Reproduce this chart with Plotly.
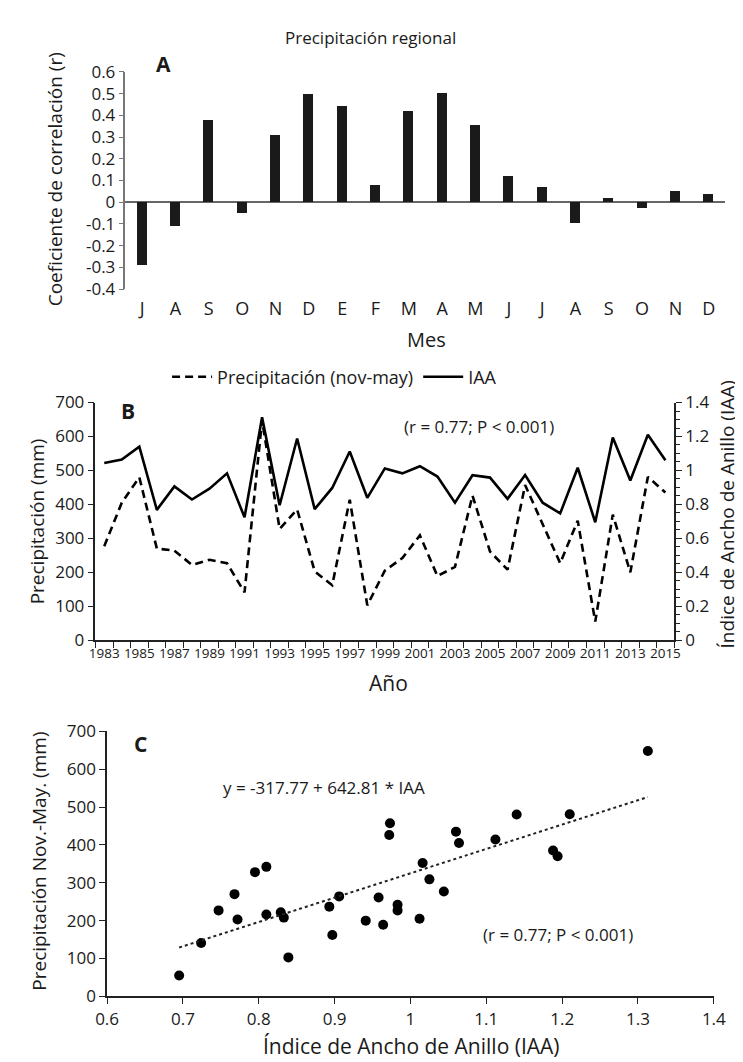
import plotly.graph_objects as go

W, H = 743, 1062

# panel A: correlation by month
meses = ['J', 'A', 'S', 'O', 'N', 'D', 'E', 'F', 'M', 'A', 'M', 'J', 'J', 'A', 'S', 'O', 'N', 'D']
corr_r = [-0.29, -0.11, 0.38, -0.05, 0.31, 0.50, 0.445, 0.08, 0.42, 0.505, 0.355,
          0.12, 0.07, -0.095, 0.02, -0.025, 0.05, 0.04]
corr_ticks = [-0.4, -0.3, -0.2, -0.1, 0, 0.1, 0.2, 0.3, 0.4, 0.5, 0.6]
corr_ticktext = ['-0.4', '-0.3', '-0.2', '-0.1', '0', '0.1', '0.2', '0.3', '0.4', '0.5', '0.6']

# panel B: series by year
anios = list(range(1983, 2016))
precip = [277, 405, 480, 270, 264, 222, 237, 227, 141, 648, 328, 385, 203, 162, 414, 103,
          205, 242, 309, 189, 216, 426, 261, 208, 457, 342, 227, 352, 55, 370, 200, 481, 435]
iaa = [1.044, 1.064, 1.14, 0.768, 0.906, 0.829, 0.893, 0.983, 0.724, 1.313, 0.795, 1.188,
       0.772, 0.897, 1.112, 0.839, 1.012, 0.983, 1.025, 0.964, 0.810, 0.972, 0.958, 0.833,
       0.973, 0.810, 0.747, 1.016, 0.695, 1.194, 0.941, 1.21, 1.06]
anio_ticks = list(range(1983, 2016, 2))

# panel C: regression
b0, b1 = -317.77, 642.81

FONT = 'Open Sans'


def px(x):
    return x / W


def py(y):
    return 1 - y / H


fig = go.Figure()

# --- A ---
fig.add_trace(go.Bar(x=list(range(len(meses))), y=corr_r, width=0.3,
                     marker=dict(color='#1a1a1a', line=dict(width=0)),
                     showlegend=False, xaxis='x', yaxis='y'))

# --- B ---
fig.add_trace(go.Scatter(x=anios, y=precip, mode='lines', name='Precipitación (nov-may)',
                         line=dict(color='black', width=2.6, dash='8px,5px'),
                         xaxis='x2', yaxis='y2'))
fig.add_trace(go.Scatter(x=anios, y=iaa, mode='lines', name='IAA',
                         line=dict(color='black', width=2.6),
                         xaxis='x2', yaxis='y3'))

# --- C ---
fig.add_trace(go.Scatter(x=iaa, y=precip, mode='markers', showlegend=False,
                         marker=dict(color='black', size=10),
                         xaxis='x3', yaxis='y4'))
xr = [min(iaa), max(iaa)]
fig.add_trace(go.Scatter(x=xr, y=[b0 + b1 * v for v in xr], mode='lines', showlegend=False,
                         line=dict(color='#222', width=2, dash='dot'),
                         xaxis='x3', yaxis='y4'))

axis_font = dict(family=FONT, size=17, color='#1a1a1a')

fig.update_layout(
    width=W, height=H,
    margin=dict(l=0, r=0, t=0, b=0),
    paper_bgcolor='white', plot_bgcolor='white',
    font=dict(family=FONT, color='#1a1a1a'),
    bargap=0,
    # A
    xaxis=dict(domain=[px(109), px(729)], range=[-0.5, 17.5], anchor='y',
               tickvals=list(range(len(meses))), ticktext=meses,
               showline=False, showgrid=False, zeroline=False,
               ticks='outside', ticklen=3, tickcolor='rgba(0,0,0,0)',
               tickfont=dict(family=FONT, size=18, color='#1a1a1a')),
    yaxis=dict(domain=[py(275), py(53)], range=[-0.4, 0.6], anchor='x',
               tickvals=corr_ticks, ticktext=corr_ticktext,
               showline=True, linecolor='#777', linewidth=1.5,
               ticks='outside', ticklen=5, tickcolor='#777',
               showgrid=False, zeroline=True, zerolinecolor='#666', zerolinewidth=1.5,
               tickfont=axis_font),
    # B
    xaxis2=dict(domain=[px(78), px(676)], range=[1982.5, 2015.5], anchor='y2',
                tickvals=anio_ticks, ticks='', showline=True, linecolor='#222', linewidth=1.5,
                showgrid=False, zeroline=False,
                minor=dict(tick0=1982.5, dtick=1, ticks='outside', ticklen=6, tickcolor='#222'),
                tickfont=dict(family=FONT, size=13.5, color='#1a1a1a')),
    yaxis2=dict(domain=[py(634), py(391)], range=[0, 700], anchor='x2', dtick=100,
                showline=True, linecolor='#222', linewidth=1.5,
                ticks='outside', ticklen=6, tickcolor='#222',
                showgrid=False, zeroline=False, tickfont=axis_font),
    yaxis3=dict(range=[0, 1.4], overlaying='y2', anchor='x2', side='right', dtick=0.2,
                showline=True, linecolor='#222', linewidth=1.5,
                ticks='outside', ticklen=6, tickcolor='#222',
                minor=dict(dtick=0.05, ticks='outside', ticklen=4, tickcolor='#222'),
                showgrid=False, zeroline=False, tickfont=axis_font),
    # C
    xaxis3=dict(domain=[px(90), px(717)], range=[0.6, 1.4], anchor='y4', dtick=0.1,
                showline=True, linecolor='#222', linewidth=1.5,
                ticks='outside', ticklen=6, tickcolor='#222',
                showgrid=False, zeroline=False, tickfont=axis_font),
    yaxis4=dict(domain=[py(998), py(727)], range=[0, 700], anchor='x3', dtick=100,
                showline=True, linecolor='#222', linewidth=1.5,
                ticks='outside', ticklen=6, tickcolor='#222',
                showgrid=False, zeroline=False, tickfont=axis_font),
    legend=dict(orientation='h', x=px(152), y=py(365), xanchor='left', yanchor='middle',
                font=dict(family=FONT, size=18, color='#1a1a1a'),
                bgcolor='rgba(0,0,0,0)', itemwidth=40),
)


def label(text, x, y, size=19, angle=0, bold=False, anchor='center'):
    if bold:
        text = '<b>' + text + '</b>'
    fig.add_annotation(text=text, x=px(x), y=py(y), xref='paper', yref='paper',
                       showarrow=False, textangle=angle, xanchor=anchor, yanchor='middle',
                       font=dict(family=FONT, size=size, color='#1a1a1a'))


label('Precipitación regional', 362, 18, size=17)
label('A', 148, 45, size=21, bold=True)
label('Coeficiente de correlación (r)', 37, 163, angle=-90)
label('Mes', 420, 327, size=20)

label('B', 112, 400, size=21, bold=True)
label('(r = 0.77; P < 0.001)', 474, 415, size=17)
label('Precipitación (mm)', 17, 512, angle=-90)
label('Índice de Ancho de Anillo (IAA)', 731, 505, angle=-90)
label('Año', 381, 678, size=21)

label('C', 125, 740, size=21, bold=True)
label('y = -317.77 + 642.81 * IAA', 208, 785, size=17, anchor='left')
label('(r = 0.77; P < 0.001)', 476, 935, size=17, anchor='left')
label('Precipitación Nov.-May. (mm)', 20, 860, angle=-90)
label('Índice de Ancho de Anillo (IAA)', 405, 1049, size=21)

fig.write_html('out.html')
